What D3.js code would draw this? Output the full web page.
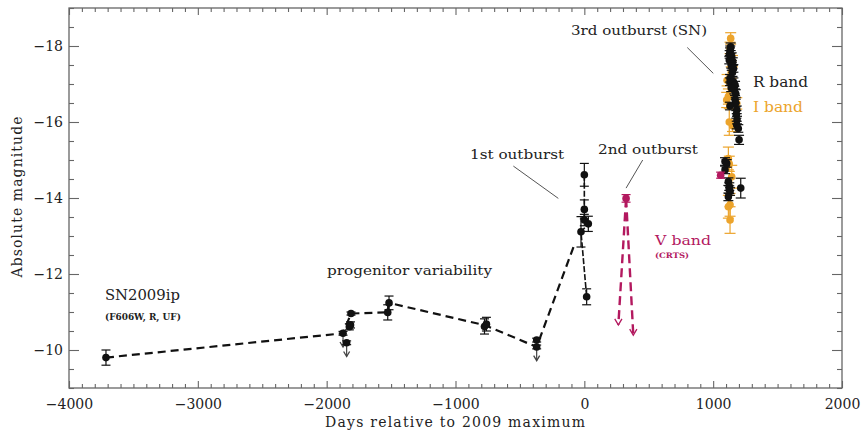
<!DOCTYPE html>
<html>
<head>
<meta charset="utf-8">
<script src="https://cdn.jsdelivr.net/npm/d3@7/dist/d3.min.js"></script>
<style>
body{margin:0;background:#fff}
text{font-family:'DejaVu Serif',serif}
</style>
</head>
<body>
<svg id="chart"></svg>
<script>

// tick labels
var xTicks=[-4000,-3000,-2000,-1000,0,1000,2000];
var yTicks=[-18,-16,-14,-12,-10];

// progenitor (R / F606W / UF)
var progDays=[-3713,-1873,-1845,-1824,-1815,-1811,-1526,-1516,-775,-760,-370,-370];
var progMag =[-9.80,-10.44,-10.19,-10.61,-10.66,-10.96,-10.99,-11.24,-10.62,-10.68,-10.26,-10.08];
var progErr =[0.20,0.05,0.05,0.08,0.08,0.04,0.20,0.18,0.20,0.18,0.05,0.05];

// upper limits (arrows)
var limDays=[-1873,-1845,-370];
var limMag =[-10.44,-10.19,-10.08];

// dashed trend through progenitor epochs
var trendDays=[-3713,-1873,-1811,-1526,-1516,-770,-370,-80];
var trendMag =[-9.80,-10.44,-10.96,-10.99,-11.24,-10.65,-10.08,-12.75];

// 1st outburst
var ob1Days=[0,0,0,31,-26,18];
var ob1Mag =[-14.61,-13.70,-13.42,-13.32,-13.11,-11.40];
var ob1Err =[0.30,0.25,0.15,0.20,0.40,0.21];

// 3rd outburst, R band
var rDays=[1136,1131,1144,1125,1152,1140,1144,1157,1133,1128,1150,1131,1131,1157,1170,1164,1175,1140,
           1170,1175,1131,1183,1180,1185,1183,1195,1201,1092,1105,1092,1118,1125,1131,1118,1125,1214];
var rMag =[-17.98,-17.85,-17.72,-17.63,-17.59,-17.52,-17.46,-17.41,-17.90,-17.78,-17.30,-17.15,-17.06,-17.06,-16.97,-16.84,-16.75,-16.90,
           -16.60,-16.50,-16.42,-16.32,-16.20,-16.05,-15.92,-15.83,-15.53,-14.74,-14.91,-14.96,-14.43,-14.30,-14.17,-14.03,-14.22,-14.26];
var rErr =[0.1,0.1,0.1,0.1,0.1,0.1,0.1,0.1,0.1,0.1,0.1,0.1,0.1,0.1,0.1,0.1,0.1,0.1,
           0.1,0.1,0.1,0.1,0.1,0.1,0.1,0.1,0.12,0.1,0.1,0.1,0.1,0.1,0.1,0.1,0.1,0.26];

// 3rd outburst, I band
var iDays=[1136,1131,1140,1118,1105,1183,1125,1150,1118,1144,1118,1131,1131,1125,1150,1108];
var iMag =[-18.20,-17.95,-17.30,-16.67,-16.58,-16.49,-16.00,-15.90,-15.04,-14.56,-13.77,-13.82,-13.42,-14.90,-17.60,-17.10];
var iErr =[0.15,0.15,0.15,0.20,0.20,0.15,0.35,0.15,0.30,0.30,0.30,0.30,0.35,0.20,0.15,0.15];

// V band (CRTS)
var vDays=[324,1058];
var vMag =[-13.99,-14.60];
var vErr =[0.10,0.08];
var vLimDays=[264,380];
var vLimMag =[-10.66,-10.39];

var W=862, H=434;
var margin={top:8,left:69,right:20,bottom:46};
var black="#111", orange="#eca42c", magenta="#b3195f", frame="#666", ink="#222";

var svg=d3.select("#chart").attr("width",W).attr("height",H);
svg.append("rect").attr("width",W).attr("height",H).attr("fill","#fff");

var x=d3.scaleLinear().domain([-4000,2000]).range([margin.left,W-margin.right]);
var y=d3.scaleLinear().domain([-9,-19]).range([H-margin.bottom,margin.top]);

function zip(d,m,e){ return d.map(function(v,i){ return {day:v,mag:m[i],err:e?e[i]:0}; }); }

// axes (ticks point inward)
var xMinor=d3.range(-4000,2001,100).filter(function(v){return v%1000!==0;});
var yMinor=d3.range(-19,-8.9,0.5).filter(function(v){return Math.abs(v%2)>0.01;});

function axisG(axis,tx){
  var g=svg.append("g").attr("transform",tx).call(axis);
  g.select(".domain").remove();
  g.selectAll("line").attr("stroke",frame).attr("stroke-width",1.1);
  g.selectAll("text").style("font-size","14px").style("fill",ink).style("font-family","'DejaVu Serif',serif");
  return g;
}
var x0=y.range()[0], y0=x.range()[0];
axisG(d3.axisBottom(x).tickValues(xTicks).tickSize(-7).tickPadding(11).tickFormat(d3.format("d")),"translate(0,"+x0+")");
axisG(d3.axisBottom(x).tickValues(xMinor).tickSize(-4).tickFormat(""),"translate(0,"+x0+")");
axisG(d3.axisTop(x).tickValues(xTicks).tickSize(-7).tickFormat(""),"translate(0,"+margin.top+")");
axisG(d3.axisTop(x).tickValues(xMinor).tickSize(-4).tickFormat(""),"translate(0,"+margin.top+")");
axisG(d3.axisLeft(y).tickValues(yTicks).tickSize(-10).tickPadding(6).tickFormat(d3.format("d")),"translate("+y0+",0)");
axisG(d3.axisLeft(y).tickValues(yMinor).tickSize(-5).tickFormat(""),"translate("+y0+",0)");
axisG(d3.axisRight(y).tickValues(yTicks).tickSize(-10).tickFormat(""),"translate("+x.range()[1]+",0)");
axisG(d3.axisRight(y).tickValues(yMinor).tickSize(-5).tickFormat(""),"translate("+x.range()[1]+",0)");

svg.append("rect")
  .attr("x",x.range()[0]).attr("y",margin.top)
  .attr("width",x.range()[1]-x.range()[0]).attr("height",x0-margin.top)
  .attr("fill","none").attr("stroke",frame).attr("stroke-width",1.3);

// axis titles
svg.append("text").attr("x",325).attr("y",427)
  .attr("textLength",260).attr("lengthAdjust","spacing")
  .style("font-size","14px").style("fill",ink).text("Days relative to 2009 maximum");
svg.append("text").attr("transform","translate(22,197) rotate(-90)")
  .attr("text-anchor","middle")
  .attr("textLength",161).attr("lengthAdjust","spacing")
  .style("font-size","14px").style("fill",ink).text("Absolute magnitude");

var line=d3.line().x(function(d){return x(d.day);}).y(function(d){return y(d.mag);});

// error bars + dots
function errs(pts,color,cap){
  var g=svg.append("g").attr("stroke",color).attr("stroke-width",1.2);
  pts.filter(function(d){return d.err>0;}).forEach(function(d){
    var cx=x(d.day), a=y(d.mag-d.err), b=y(d.mag+d.err);
    g.append("line").attr("x1",cx).attr("x2",cx).attr("y1",a).attr("y2",b);
    g.append("line").attr("x1",cx-cap).attr("x2",cx+cap).attr("y1",a).attr("y2",a);
    g.append("line").attr("x1",cx-cap).attr("x2",cx+cap).attr("y1",b).attr("y2",b);
  });
}
function dots(pts,color,r){
  svg.append("g").selectAll("circle").data(pts).enter().append("circle")
    .attr("cx",function(d){return x(d.day);})
    .attr("cy",function(d){return y(d.mag);})
    .attr("r",r).attr("fill",color);
}
function arrowDown(px,py,color,size){
  svg.append("path")
    .attr("d","M"+(px-size*0.6)+","+(py-size)+"L"+px+","+py+"L"+(px+size*0.6)+","+(py-size))
    .attr("fill","none").attr("stroke",color).attr("stroke-width",1.3);
}

// trend line
svg.append("path").datum(zip(trendDays,trendMag))
  .attr("d",line).attr("fill","none").attr("stroke",black)
  .attr("stroke-width",2.2).attr("stroke-dasharray","8,5");

// 1st outburst connecting line
var ob1=zip(ob1Days,ob1Mag,ob1Err);
svg.append("path").datum(ob1.slice().sort(function(a,b){return a.mag-b.mag;}))
  .attr("d",line).attr("fill","none").attr("stroke",black)
  .attr("stroke-width",1.6).attr("stroke-dasharray","6,2");

// upper limits
limDays.forEach(function(d,i){
  var px=x(d), a=y(limMag[i]), b=y(limMag[i]+0.36);
  svg.append("line").attr("x1",px).attr("x2",px).attr("y1",a).attr("y2",b)
    .attr("stroke","#444").attr("stroke-width",1.2);
  arrowDown(px,b,"#444",5);
});

var prog=zip(progDays,progMag,progErr);
errs(prog,black,4.5); dots(prog,black,3.8);
errs(ob1,black,4.5); dots(ob1,black,3.8);

// V band limits
vLimDays.forEach(function(d,i){
  var seg=[{day:vDays[0],mag:vMag[0]},{day:d,mag:vLimMag[i]}];
  svg.append("path").datum(seg).attr("d",line).attr("fill","none")
    .attr("stroke",magenta).attr("stroke-width",2.4).attr("stroke-dasharray","9,5");
  arrowDown(x(d),y(vLimMag[i]),magenta,6);
});

var iPts=zip(iDays,iMag,iErr), rPts=zip(rDays,rMag,rErr), vPts=zip(vDays,vMag,vErr);
errs(iPts,orange,5.5); dots(iPts,orange,3.8);
errs(rPts,black,5); dots(rPts,black,3.8);
errs(vPts,magenta,4.5); dots(vPts,magenta,3.8);

// annotations (positioned in data units)
function label(day,mag,txt,size,len,color,weight){
  svg.append("text").attr("x",x(day)).attr("y",y(mag))
    .attr("textLength",len).attr("lengthAdjust","spacingAndGlyphs")
    .style("font-size",size+"px").style("font-weight",weight||"normal")
    .style("fill",color||ink).text(txt);
}
function pointer(d1,m1,d2,m2){
  svg.append("line").attr("x1",x(d1)).attr("y1",y(m1)).attr("x2",x(d2)).attr("y2",y(m2))
    .attr("stroke","#555").attr("stroke-width",1);
}
label(-3721,-11.32,"SN2009ip",15,75);
label(-3721,-10.79,"(F606W, R, UF)",8.5,76,ink,"bold");
label(-1997,-11.97,"progenitor variability",13.5,165);
label(-887,-15.03,"1st outburst",13.5,94);
label(106,-15.16,"2nd outburst",13.5,100);
label(-103,-18.29,"3rd outburst (SN)",13.5,136);
label(1309,-16.92,"R band",14,55);
label(1309,-16.26,"I band",14,50,orange);
label(549,-12.76,"V band",13.5,56,magenta);
label(549,-12.42,"(CRTS)",7.5,34,magenta,"bold");
pointer(-551,-14.84,-202,-13.99);
pointer(453,-15.00,324,-14.26);
pointer(799,-17.96,1001,-17.28);

</script>
</body>
</html>
